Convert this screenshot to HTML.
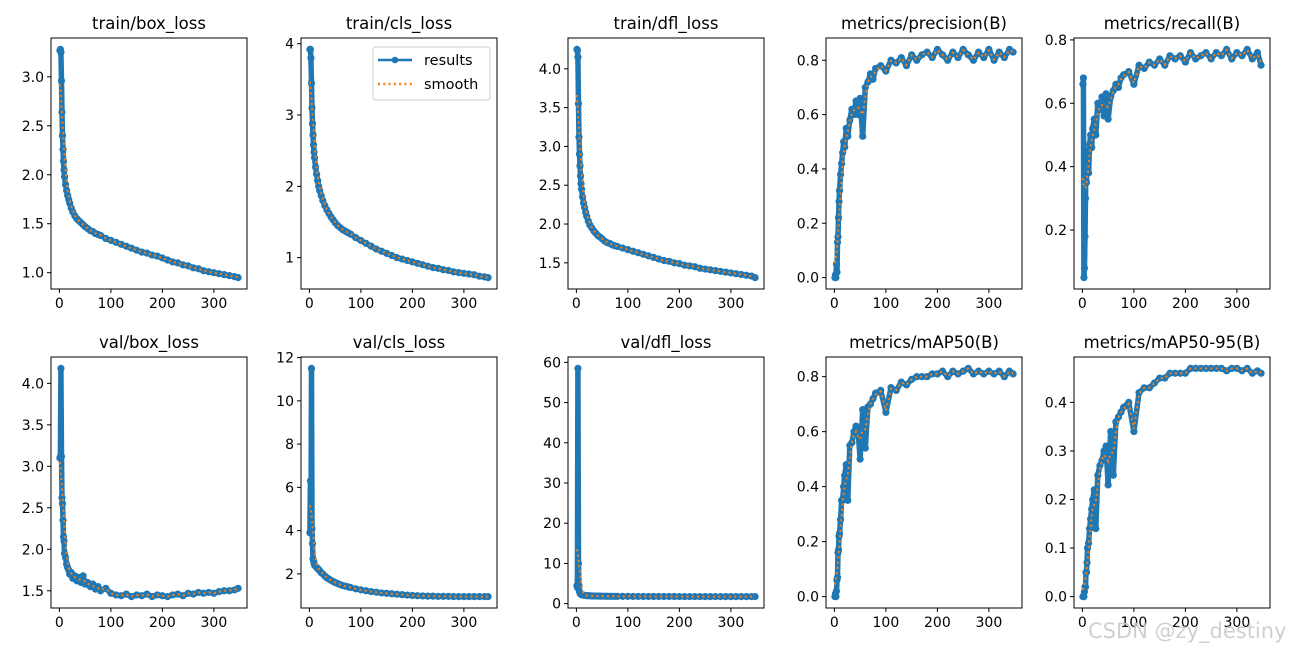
<!DOCTYPE html>
<html><head><meta charset="utf-8">
<style>
html,body{margin:0;padding:0;background:#fff;}
svg{display:block;font-family:"DejaVu Sans","Liberation Sans",sans-serif;}
</style></head>
<body>
<svg id="fig" width="1305" height="650" viewBox="0 0 1305 650" xmlns="http://www.w3.org/2000/svg">
<rect width="1305" height="650" fill="#fff"/>
</svg>
<script>
const epochs = [1,2,3,4,5,6,7,8,9,10,12,14,16,18,20,23,26,30,34,38,42,46,50,55,60,65,70,75,80,90,100,110,120,130,140,150,160,170,180,190,200,210,220,230,240,250,260,270,280,290,300,310,320,330,340,347];
const xTicks = [0,100,200,300];

const trainBox = [3.27,3.28,3.25,2.96,2.64,2.40,2.26,2.14,2.05,1.98,1.90,1.84,1.79,1.75,1.71,1.66,1.62,1.58,1.55,1.53,1.51,1.49,1.47,1.45,1.43,1.42,1.40,1.39,1.38,1.35,1.33,1.31,1.29,1.27,1.25,1.23,1.21,1.20,1.18,1.17,1.15,1.13,1.11,1.10,1.08,1.07,1.05,1.04,1.02,1.01,1.00,0.99,0.98,0.97,0.96,0.95];
const trainCls = [3.92,3.92,3.80,3.45,3.10,2.88,2.72,2.58,2.48,2.40,2.27,2.17,2.08,2.00,1.94,1.87,1.80,1.73,1.67,1.62,1.57,1.53,1.49,1.45,1.42,1.39,1.37,1.35,1.33,1.28,1.24,1.20,1.16,1.12,1.09,1.06,1.03,1.00,0.98,0.96,0.94,0.92,0.90,0.88,0.86,0.85,0.83,0.82,0.80,0.79,0.78,0.77,0.76,0.74,0.73,0.72];
const trainDfl = [4.25,4.24,4.15,3.55,3.12,2.90,2.75,2.62,2.52,2.45,2.35,2.27,2.21,2.15,2.10,2.04,1.99,1.95,1.91,1.88,1.85,1.83,1.81,1.78,1.76,1.75,1.73,1.72,1.71,1.69,1.67,1.65,1.63,1.61,1.59,1.57,1.55,1.53,1.52,1.50,1.49,1.47,1.46,1.45,1.43,1.42,1.41,1.40,1.39,1.38,1.37,1.36,1.35,1.34,1.33,1.31];
const precision = [0.0,0.01,0.0,0.05,0.02,0.13,0.15,0.22,0.28,0.32,0.38,0.42,0.46,0.50,0.48,0.55,0.52,0.58,0.62,0.60,0.65,0.60,0.66,0.52,0.70,0.72,0.75,0.73,0.77,0.78,0.76,0.80,0.79,0.81,0.78,0.82,0.80,0.82,0.83,0.81,0.84,0.82,0.80,0.83,0.81,0.84,0.82,0.80,0.83,0.81,0.84,0.80,0.83,0.81,0.84,0.83];
const recall = [0.66,0.68,0.05,0.08,0.18,0.30,0.42,0.35,0.40,0.45,0.38,0.47,0.50,0.46,0.52,0.55,0.50,0.60,0.58,0.62,0.56,0.63,0.55,0.62,0.64,0.66,0.65,0.68,0.69,0.70,0.66,0.72,0.71,0.73,0.72,0.74,0.72,0.75,0.74,0.75,0.73,0.76,0.74,0.75,0.76,0.74,0.76,0.75,0.77,0.74,0.76,0.75,0.77,0.74,0.76,0.72];
const valBox = [3.10,3.12,4.18,3.12,2.62,2.55,2.35,2.15,2.10,1.95,1.90,1.82,1.78,1.75,1.70,1.72,1.65,1.68,1.62,1.66,1.60,1.68,1.58,1.60,1.55,1.58,1.52,1.55,1.50,1.53,1.47,1.45,1.44,1.46,1.43,1.45,1.44,1.46,1.43,1.45,1.44,1.43,1.45,1.46,1.44,1.47,1.46,1.48,1.47,1.48,1.47,1.49,1.50,1.50,1.51,1.53];
const valCls = [3.9,6.3,3.9,11.5,4.1,3.4,2.7,2.6,2.5,2.4,2.35,2.3,2.25,2.2,2.15,2.05,2.0,1.9,1.82,1.76,1.7,1.65,1.6,1.55,1.5,1.46,1.43,1.4,1.37,1.31,1.26,1.22,1.18,1.15,1.12,1.1,1.08,1.06,1.04,1.02,1.0,0.99,0.98,0.97,0.97,0.96,0.96,0.96,0.95,0.95,0.95,0.95,0.95,0.95,0.95,0.95];
const valDfl = [4.5,4.0,58.5,10,4.5,3.0,2.6,2.4,2.3,2.2,2.15,2.1,2.05,2.0,2.0,1.95,1.95,1.9,1.9,1.88,1.87,1.86,1.85,1.84,1.83,1.82,1.82,1.81,1.81,1.80,1.80,1.79,1.79,1.78,1.78,1.78,1.77,1.77,1.77,1.77,1.76,1.76,1.76,1.76,1.76,1.76,1.75,1.75,1.75,1.75,1.75,1.75,1.75,1.75,1.75,1.75];
const map50 = [0.0,0.01,0.0,0.02,0.06,0.07,0.16,0.17,0.22,0.23,0.28,0.35,0.35,0.40,0.44,0.48,0.35,0.55,0.56,0.60,0.62,0.60,0.50,0.68,0.54,0.69,0.70,0.72,0.74,0.75,0.67,0.76,0.75,0.78,0.77,0.79,0.80,0.80,0.80,0.81,0.81,0.82,0.80,0.82,0.81,0.82,0.83,0.81,0.82,0.81,0.82,0.81,0.82,0.80,0.82,0.81];
const map5095 = [0.0,0.0,0.0,0.01,0.02,0.02,0.05,0.05,0.07,0.10,0.11,0.14,0.16,0.18,0.20,0.22,0.14,0.25,0.27,0.28,0.30,0.31,0.23,0.34,0.25,0.36,0.37,0.38,0.39,0.40,0.34,0.42,0.43,0.43,0.44,0.45,0.45,0.46,0.46,0.46,0.46,0.47,0.47,0.47,0.47,0.47,0.47,0.47,0.465,0.47,0.47,0.465,0.47,0.46,0.465,0.46];

const titles = ["train/box_loss","train/cls_loss","train/dfl_loss","metrics/precision(B)","metrics/recall(B)","val/box_loss","val/cls_loss","val/dfl_loss","metrics/mAP50(B)","metrics/mAP50-95(B)"];
const seriesList = [trainBox,trainCls,trainDfl,precision,recall,valBox,valCls,valDfl,map50,map5095];
const yTicksList = [
  [1.0,1.5,2.0,2.5,3.0],[1,2,3,4],[1.5,2.0,2.5,3.0,3.5,4.0],[0.0,0.2,0.4,0.6,0.8],[0.2,0.4,0.6,0.8],
  [1.5,2.0,2.5,3.0,3.5,4.0],[2,4,6,8,10,12],[0,10,20,30,40,50,60],[0.0,0.2,0.4,0.6,0.8],[0.0,0.1,0.2,0.3,0.4]
];
const yDecimals = [1,0,1,1,1,1,0,0,1,1];

const NS = "http://www.w3.org/2000/svg";
const fig = document.getElementById("fig");
const lefts = [51,301,568,826,1074];
const W = 196;
const tops = [38,357], H = 251;
const BLUE = "#1f77b4", ORANGE = "#ff7f0e";

function mk(tag, attrs, parent){
  const e = document.createElementNS(NS, tag);
  for (const k in attrs) e.setAttribute(k, attrs[k]);
  (parent||fig).appendChild(e);
  return e;
}
function smooth(xs, ys){
  const out = [];
  for (let i=0;i<xs.length;i++){
    let s=0,w=0;
    for (let j=0;j<xs.length;j++){
      const d=(xs[j]-xs[i])/4;
      const g=Math.exp(-0.5*d*d);
      s+=g*ys[j]; w+=g;
    }
    out.push(s/w);
  }
  return out;
}

for (let p=0;p<10;p++){
  const row = Math.floor(p/5), col = p%5;
  const L = lefts[col], T = tops[row];
  const ys = seriesList[p];
  const g = mk("g",{});
  
  

  const x0 = Math.min(...epochs), x1 = Math.max(...epochs);
  const xm = (x1-x0)*0.05;
  const xmin = x0-xm, xmax = x1+xm;
  const y0 = Math.min(...ys), y1 = Math.max(...ys);
  const ym = (y1-y0)*0.05;
  const ymin = y0-ym, ymax = y1+ym;
  const sx = v => L + (v-xmin)/(xmax-xmin)*W;
  const sy = v => T + H - (v-ymin)/(ymax-ymin)*H;

  const title = mk("text",{x:L+W/2,y:T-9,"text-anchor":"middle","font-size":"16.5",fill:"#000"},g);
  title.textContent = titles[p];
  
  

  xTicks.forEach(t=>{
    const x = sx(t);
    mk("line",{x1:x,y1:T+H,x2:x,y2:T+H+4,stroke:"#000","stroke-width":"1"},g);
    const tx = mk("text",{x:x,y:T+H+19,"text-anchor":"middle","font-size":"14",fill:"#000"},g);
    tx.textContent = t;
    
    
  });
  yTicksList[p].forEach(t=>{
    const y = sy(t);
    if (y < T-0.5 || y > T+H+0.5) return;
    mk("line",{x1:L-4,y1:y,x2:L,y2:y,stroke:"#000","stroke-width":"1"},g);
    const ty = mk("text",{x:L-7,y:y+5,"text-anchor":"end","font-size":"14",fill:"#000"},g);
    ty.textContent = t.toFixed(yDecimals[p]);
    
    
  });

  const pts = epochs.map((e,i)=>sx(e).toFixed(1)+","+sy(ys[i]).toFixed(1)).join(" ");
  const band = mk("polyline",{points:pts,fill:"none",stroke:BLUE,"stroke-width":"5.5","stroke-linejoin":"round","stroke-linecap":"round"},g);
  
  
  epochs.forEach((e,i)=>{
    const c = mk("circle",{cx:sx(e),cy:sy(ys[i]),r:"3.6",fill:BLUE},g);
    
    
  });
  const sm = smooth(epochs, ys);
  const spts = epochs.map((e,i)=>sx(e).toFixed(1)+","+sy(sm[i]).toFixed(1)).join(" ");
  const sl = mk("polyline",{points:spts,fill:"none",stroke:ORANGE,"stroke-width":"2","stroke-dasharray":"2,3.3"},g);
  
  

  const frame = mk("rect",{x:L,y:T,width:W,height:H,fill:"none",stroke:"#000","stroke-width":"1"},g);
  
  
}

const lg = mk("g",{});


mk("rect",{x:373,y:47,width:117,height:53,rx:3,fill:"#fff","fill-opacity":"0.85",stroke:"#ccc","stroke-width":"1"},lg);
mk("line",{x1:378,y1:60,x2:412,y2:60,stroke:BLUE,"stroke-width":"2.5"},lg);
mk("circle",{cx:395,cy:60,r:3.3,fill:BLUE},lg);
const lt1 = mk("text",{x:424,y:65,"font-size":"14.5",fill:"#000"},lg);
lt1.textContent = "results";


mk("line",{x1:378,y1:84,x2:412,y2:84,stroke:ORANGE,"stroke-width":"2.5","stroke-dasharray":"2,3.3"},lg);
const lt2 = mk("text",{x:424,y:89,"font-size":"14.5",fill:"#000"},lg);
lt2.textContent = "smooth";



const wm = mk("text",{x:1088,y:638,"font-size":"21",fill:"#c8c8c8","fill-opacity":"0.85"});
wm.textContent = "CSDN @zy_destiny";


</script>
</body></html>
